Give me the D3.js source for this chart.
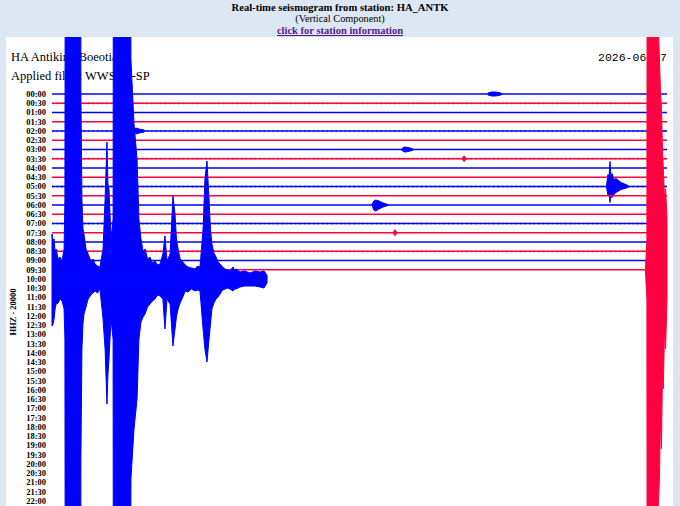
<!DOCTYPE html>
<html><head><meta charset="utf-8">
<script src="https://cdn.jsdelivr.net/npm/d3@7"></script>
<style>html,body{margin:0;padding:0;background:#dde6f3;}svg{display:block;}</style>
</head><body>
<svg id="c" width="680" height="506"></svg>
<script>
// ---------- DATA ----------
const titleLines = ["Real-time seismogram from station: HA_ANTK", "(Vertical Component)", "click for station information"];
const stationName = "HA Antikira, Boeotia";
const filterText = "Applied filter: WWSSN-SP";
const dateText = "2026-06-07";
const channelText = "HHZ - 20000";
const rowLabels = ["00:00","00:30","01:00","01:30","02:00","02:30","03:00","03:30","04:00","04:30",
  "05:00","05:30","06:00","06:30","07:00","07:30","08:00","08:30","09:00","09:30",
  "10:00","10:30","11:00","11:30","12:00","12:30","13:00","13:30","14:00","14:30",
  "15:00","15:30","16:00","16:30","17:00","17:30","18:00","18:30","19:00","19:30",
  "20:00","20:30","21:00","21:30","22:00"];
// noise level of each completed 30-minute row (0 quiet, 1 noisy)
const rowNoise = [0,1,0,0,1,0,0,1,0,0,1,0,0,0,1,0,0,1,0,0];
const completedRows = 20;
// envelopes: [minute in row, max amplitude (kcounts, up), min amplitude (kcounts, down)]; 999 = clipped
const ev0000 = [[21.27,1,-1],[21.45,2,-2],[21.61,2,-2],[21.80,1.5,-1.5],[21.95,0.5,-0.5]];
const ev0200 = [[4.00,1,-1],[4.08,3,-3],[4.25,2,-2],[4.50,1,-1]];
const ev0300 = [[17.07,1,-1],[17.20,2.5,-2.5],[17.40,2,-2],[17.61,0.5,-0.5]];
const ev0330 = [[20.02,0.5,-0.5],[20.10,3,-3],[20.18,0.5,-0.5]];
const ev0500 = [[27.05,1,-1],[27.12,12,-9],[27.17,9,-7],[27.22,25,-16],[27.27,10,-9],[27.32,13,-11],[27.41,7,-8],[27.51,8,-6],[27.76,4,-3],[28.10,1,-1]];
const ev0600 = [[15.62,1,-1],[15.70,4,-5],[15.80,5,-6],[15.95,4,-4],[16.15,2,-2],[16.39,0.5,-0.5]];
const ev0730 = [[16.65,0.5,-0.5],[16.73,3,-3],[16.82,0.5,-0.5]];
const ev0930 = [[28.95,1,-1],[29.02,30,-30],[29.05,999,-999],[29.53,999,-999],[29.58,240,-235],[29.63,211,-209],
  [29.68,180,-150],[29.73,161,-179],[29.78,120,-100],[29.82,101,-119],[29.88,70,-60],[29.93,81,-79],[30.0,51,-29]];
const ev1000 = [[0.00,45,-47],[0.05,38,-45],[0.10,40,-40],[0.15,28,-30],[0.20,30,-25],[0.30,20,-24],[0.39,22,-20],[0.49,18,-22],[0.59,30,-30],[0.63,80,-60],
  [0.68,999,-999],[1.37,999,-999],[1.41,185,-180],[1.46,80,-70],[1.51,50,-45],[1.56,45,-35],[1.66,30,-28],[1.76,25,-20],
  [1.90,18,-16],[2.00,20,-14],[2.10,15,-12],[2.22,13,-14],[2.34,12,-10],[2.49,30,-40],[2.59,80,-70],[2.68,137,-125],[2.73,95,-95],[2.78,90,-80],
  [2.88,40,-40],[2.98,60,-60],[3.02,999,-999],[3.76,999,-999],[3.85,220,-200],[4.00,155,-150],
  [4.15,120,-120],[4.24,60,-60],[4.34,40,-43],[4.44,28,-38],[4.54,30,-35],[4.66,20,-28],[4.78,22,-25],[4.90,16,-22],[5.02,18,-20],
  [5.15,14,-16],[5.27,15,-17],[5.41,25,-20],[5.51,43,-50],[5.61,18,-20],[5.76,25,-25],[5.90,83,-67],
  [6.00,65,-50],[6.07,40,-38],[6.15,30,-30],[6.25,20,-24],[6.34,18,-20],[6.50,14,-12],[6.63,12,-13],[6.80,11,-10],[6.98,10,-12],[7.10,13,-11],[7.22,12,-12],
  [7.37,50,-50],[7.46,100,-70],[7.56,118,-83],[7.66,80,-60],[7.73,50,-45],[7.80,35,-30],[7.90,26,-24],[8.00,22,-20],
  [8.10,17,-18],[8.20,15,-15],[8.32,12,-11],[8.44,10,-10],[8.56,9,-9],[8.68,8,-10],[8.83,12,-12],[8.90,9,-10],[8.98,10,-10],[9.17,7,-8],[9.40,8,-7],
  [9.66,6,-7],[9.90,8,-7],[10.15,7,-8],[10.34,8,-9],[10.49,4,-4]];
const events = [
  {row:0, pts:ev0000},{row:4, pts:ev0200},{row:6, pts:ev0300},{row:7, pts:ev0330},
  {row:10, pts:ev0500},{row:12, pts:ev0600},{row:15, pts:ev0730},{row:19, pts:ev0930},{row:20, pts:ev1000}
];

// ---------- DRAW ----------
const svg = d3.select("#c");
const blue = "#0000ff", red = "#ff0040";
const panel = {x0:6, x1:673, y0:37, y1:506};

const x = d3.scaleLinear().domain([0, 30]).range([52, 667]);
const y = d3.scaleLinear().domain([0, rowLabels.length - 1]).range([94, 501]);
const amp = d3.scaleLinear().domain([0, 1]).range([0, 1]);
const rowColor = i => (i % 2 === 0 ? blue : red);

// header
const hdr = svg.append("g").attr("font-family", "'Liberation Serif','Times New Roman',serif").attr("text-anchor", "middle");
hdr.append("text").attr("x", 340).attr("y", 11).attr("font-size", 10.6).attr("font-weight", "bold").text(titleLines[0]);
hdr.append("text").attr("x", 340).attr("y", 22).attr("font-size", 10.3).text(titleLines[1]);
hdr.append("text").attr("x", 340).attr("y", 34).attr("font-size", 10.5).attr("font-weight", "bold")
  .attr("fill", "#551a8b").attr("text-decoration", "underline").text(titleLines[2]);

// panel
svg.append("rect").attr("x", panel.x0).attr("y", panel.y0).attr("width", panel.x1 - panel.x0).attr("height", panel.y1 - panel.y0).attr("fill", "#fff");
svg.append("clipPath").attr("id", "pc").append("rect")
  .attr("x", panel.x0).attr("y", panel.y0).attr("width", panel.x1 - panel.x0).attr("height", panel.y1 - panel.y0);

const txt = svg.append("g").attr("font-family", "'Liberation Serif','Times New Roman',serif").attr("fill", "#000");
txt.append("text").attr("x", 11).attr("y", 61).attr("font-size", 12.5).text(stationName);
txt.append("text").attr("x", 11).attr("y", 80).attr("font-size", 12.5).text(filterText);
txt.append("text").attr("x", 667).attr("y", 61).attr("font-size", 11.5).attr("text-anchor", "end")
  .attr("font-family", "'Liberation Mono','DejaVu Sans Mono',monospace").text(dateText);

// row labels
svg.append("g").selectAll("text").data(rowLabels).join("text")
  .attr("x", 46).attr("y", (d, i) => y(i)).attr("dy", "0.33em")
  .attr("text-anchor", "end").attr("font-family", "'Liberation Serif',serif")
  .attr("font-size", 8.5).attr("font-weight", "bold").text(d => d);

svg.append("text").attr("transform", `translate(16,${312}) rotate(-90)`)
  .attr("text-anchor", "middle").attr("font-family", "'Liberation Serif',serif")
  .attr("font-size", 8.5).attr("font-weight", "bold").text(channelText);

// traces
const traces = svg.append("g").attr("clip-path", "url(#pc)");
const area = base => d3.area()
  .x(d => x(d[0]))
  .y0(d => base - amp(d[2]))
  .y1(d => base - amp(d[1]));

for (let r = 0; r <= completedRows; r++) {
  const base = y(r), col = rowColor(r);
  const g = traces.append("g");
  if (r < completedRows) {
    g.append("line").attr("x1", x(0)).attr("x2", x(30)).attr("y1", base).attr("y2", base)
      .attr("stroke", col).attr("stroke-width", 1.5);
    if (rowNoise[r]) {
      g.append("line").attr("x1", x(0)).attr("x2", x(30)).attr("y1", base).attr("y2", base)
        .attr("stroke", col).attr("stroke-width", 2.6).attr("stroke-opacity", 0.4)
        .attr("stroke-dasharray", "1.5,3");
    }
  }
  events.filter(e => e.row === r).forEach(e => {
    g.append("path").datum(e.pts).attr("d", area(base))
      .attr("fill", col).attr("stroke", col).attr("stroke-width", 1).attr("stroke-linejoin", "round");
  });
}
</script>
</body></html>
